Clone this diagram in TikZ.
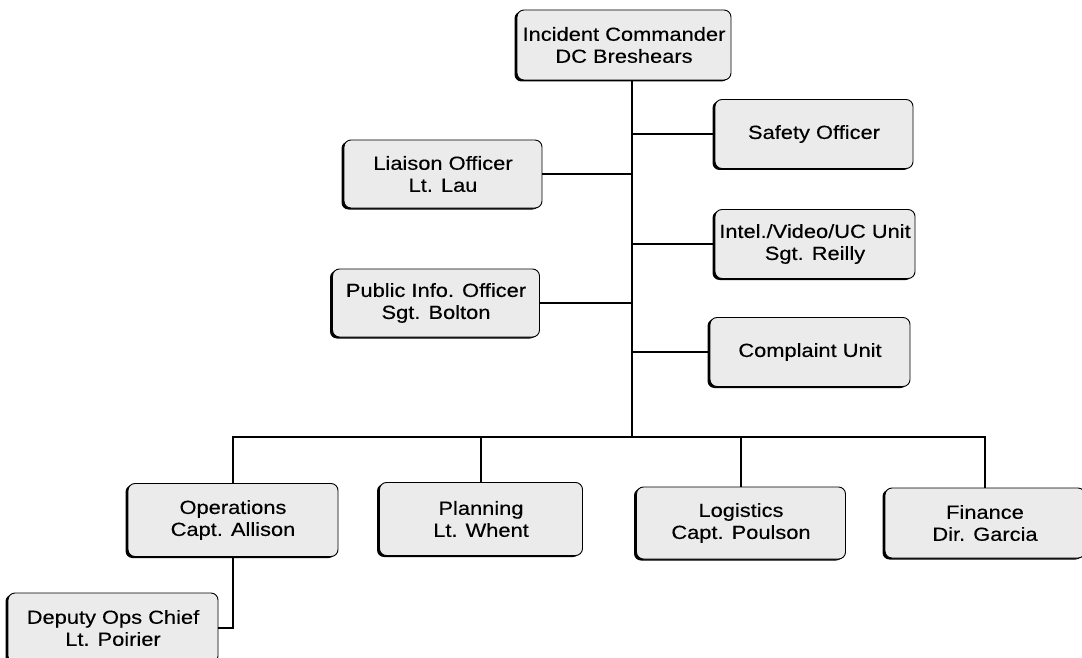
\documentclass[tikz,border=0pt]{standalone}
\usepackage{fontspec}
\setmainfont{Liberation Sans}[FakeStretch=1.15, FakeBold=0.3]
\usetikzlibrary{shadows}

\begin{document}
\begin{tikzpicture} [x = 1pt, y = -1pt,
	unit/.style = {draw, line width = 0.9pt, rounded corners = 7pt, fill = gray!16, align = center, inner sep = 0pt,
		font = \fontsize{19}{22}\selectfont,
		drop shadow = {shadow xshift = -2.5pt, shadow yshift = -1.5pt, fill = black, opacity = 1}},
	link/.style = {line width = 1.8pt}]
	\useasboundingbox (0,0) rectangle (1082,658);
	\node [unit, minimum width = 214pt, minimum height = 70pt] (ic) at (624,45) {Incident Commander\\DC Breshears};
	\node [unit, minimum width = 198pt, minimum height = 69pt] (safety) at (814,134) {Safety Officer};
	\node [unit, minimum width = 198pt, minimum height = 68pt] (liaison) at (443,174) {Liaison Officer\\Lt. Lau};
	\node [unit, minimum width = 200pt, minimum height = 69pt] (intel) at (815,244) {Intel./Video/UC Unit\\Sgt. Reilly};
	\node [unit, minimum width = 207pt, minimum height = 68pt] (pio) at (436,303) {Public Info. Officer\\Sgt. Bolton};
	\node [unit, minimum width = 200pt, minimum height = 69pt] (complaint) at (810,352) {Complaint Unit};
	\node [unit, minimum width = 210pt, minimum height = 73pt] (ops) at (233,520) {Operations\\Capt. Allison};
	\node [unit, minimum width = 203pt, minimum height = 73pt] (plan) at (481,519) {Planning\\Lt. Whent};
	\node [unit, minimum width = 209pt, minimum height = 72pt] (log) at (741,523) {Logistics\\Capt. Poulson};
	\node [unit, minimum width = 200pt, minimum height = 70pt] (fin) at (985,523) {Finance\\Dir. Garcia};
	\node [unit, minimum width = 210pt, minimum height = 70pt] (deputy) at (113,628) {Deputy Ops Chief\\Lt. Poirier};
	\coordinate (bus) at (632,437);
	\draw [link] (ic.south -| bus) -- (bus);
	\draw [link] (safety.west) -- (safety.west -| bus);
	\draw [link] (liaison.east) -- (liaison.east -| bus);
	\draw [link] (intel.west) -- (intel.west -| bus);
	\draw [link] (pio.east) -- (pio.east -| bus);
	\draw [link] (complaint.west) -- (complaint.west -| bus);
	\draw [link] (ops.north) |- (bus) -| (fin.north);
	\draw [link] (plan.north) -- (plan.north |- bus);
	\draw [link] (log.north) -- (log.north |- bus);
	\draw [link] (ops.south) |- (deputy.east);
\end{tikzpicture}
\end{document}
